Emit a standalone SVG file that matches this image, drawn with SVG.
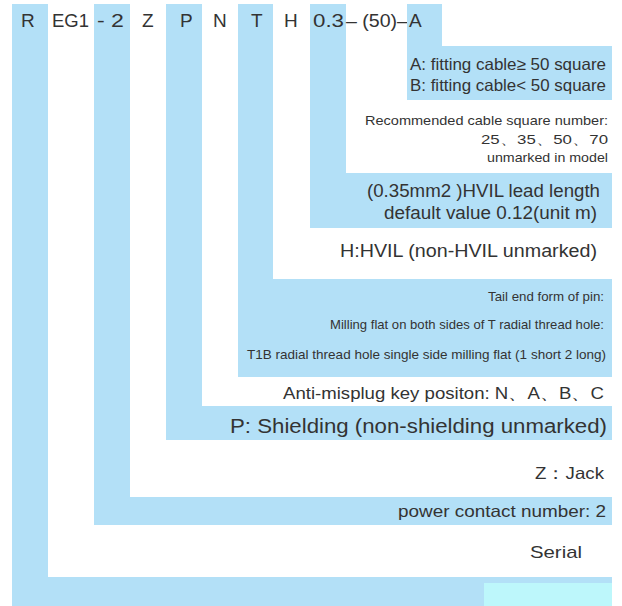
<svg xmlns="http://www.w3.org/2000/svg" width="622" height="606" viewBox="0 0 622 606">
<style>
.b{fill:#b3e0f7}
.c{fill:#bdf7fb}
text{font-family:"Liberation Sans",Arial,sans-serif;fill:#333333}
.top{font-size:19px}
.n{font-size:13.5px}
.m{font-size:16.5px}
.r{text-anchor:end}
</style>
<rect width="622" height="606" fill="#ffffff"/>
<g id="code-R">
<rect class="b" x="12" y="4" width="36" height="602"/>
<rect class="b" x="12" y="577" width="600" height="29"/>
<rect class="c" x="484" y="583" width="128" height="23"/>
<text class="top" x="21" y="27">R</text>
</g>
<g id="code-EG1">
<text class="top" x="52" y="27" textLength="37" lengthAdjust="spacingAndGlyphs">EG1</text>
<text class="m r" x="582" y="558" style="font-size:17px" textLength="52" lengthAdjust="spacingAndGlyphs">Serial</text>
</g>
<g id="code-2">
<rect class="b" x="94" y="4" width="36" height="521"/>
<rect class="b" x="94" y="497" width="518" height="28"/>
<text class="top" x="97" y="27" textLength="27" lengthAdjust="spacingAndGlyphs">- 2</text>
<text class="m r" x="606" y="517" textLength="208" lengthAdjust="spacingAndGlyphs">power contact number: 2</text>
</g>
<g id="code-Z">
<text class="top" x="142" y="27">Z</text>
<text class="m r" x="604" y="479" textLength="69" lengthAdjust="spacingAndGlyphs">Z：Jack</text>
</g>
<g id="code-P">
<rect class="b" x="166" y="4" width="36" height="436"/>
<rect class="b" x="166" y="406" width="446" height="34"/>
<text class="top" x="180" y="27">P</text>
<text class="r" x="607" y="433" style="font-size:19.5px" textLength="377" lengthAdjust="spacingAndGlyphs">P: Shielding (non-shielding unmarked)</text>
</g>
<g id="code-N">
<text class="top" x="213" y="27">N</text>
<text class="m r" x="604" y="399" textLength="321" lengthAdjust="spacingAndGlyphs">Anti-misplug key positon: N、A、B、C</text>
</g>
<g id="code-T">
<rect class="b" x="238" y="4" width="35" height="373"/>
<rect class="b" x="238" y="279" width="374" height="98"/>
<text class="top" x="251" y="27">T</text>
<text class="n r" x="604" y="301" textLength="116" lengthAdjust="spacingAndGlyphs">Tail end form of pin:</text>
<text class="n r" x="604" y="329" textLength="274" lengthAdjust="spacingAndGlyphs">Milling flat on both sides of T radial thread hole:</text>
<text class="n r" x="606" y="359" textLength="359" lengthAdjust="spacingAndGlyphs">T1B radial thread hole single side milling flat (1 short 2 long)</text>
</g>
<g id="code-H">
<text class="top" x="284" y="27">H</text>
<text class="r" x="597" y="257" style="font-size:17.5px" textLength="257" lengthAdjust="spacingAndGlyphs">H:HVIL (non-HVIL unmarked)</text>
</g>
<g id="code-03">
<rect class="b" x="310" y="4" width="36" height="224"/>
<rect class="b" x="310" y="173" width="302" height="55"/>
<text class="top" x="313" y="27" textLength="31" lengthAdjust="spacingAndGlyphs">0.3</text>
<text x="600" y="197" class="r" style="font-size:17.5px" textLength="233" lengthAdjust="spacingAndGlyphs">(0.35mm2 )HVIL lead length</text>
<text x="597" y="219" class="r" style="font-size:17.5px" textLength="213" lengthAdjust="spacingAndGlyphs">default value 0.12(unit m)</text>
</g>
<g id="code-50">
<text class="top" x="346" y="27" textLength="62" lengthAdjust="spacingAndGlyphs">– (50)–</text>
<text class="n r" x="608" y="125" textLength="243" lengthAdjust="spacingAndGlyphs">Recommended cable square number:</text>
<text class="n r" x="608" y="144" textLength="127" lengthAdjust="spacingAndGlyphs">25、35、50、70</text>
<text class="n r" x="608" y="162" textLength="121" lengthAdjust="spacingAndGlyphs">unmarked in model</text>
</g>
<g id="code-A">
<rect class="b" x="407" y="4" width="35" height="96"/>
<rect class="b" x="407" y="46" width="205" height="54"/>
<text class="top" x="409" y="27">A</text>
<text class="m" x="410" y="70" textLength="196" lengthAdjust="spacingAndGlyphs">A: fitting cable≥ 50 square</text>
<text class="m" x="410" y="91" textLength="196" lengthAdjust="spacingAndGlyphs">B: fitting cable&lt; 50 square</text>
</g>
<g id="connectors"/>
</svg>
